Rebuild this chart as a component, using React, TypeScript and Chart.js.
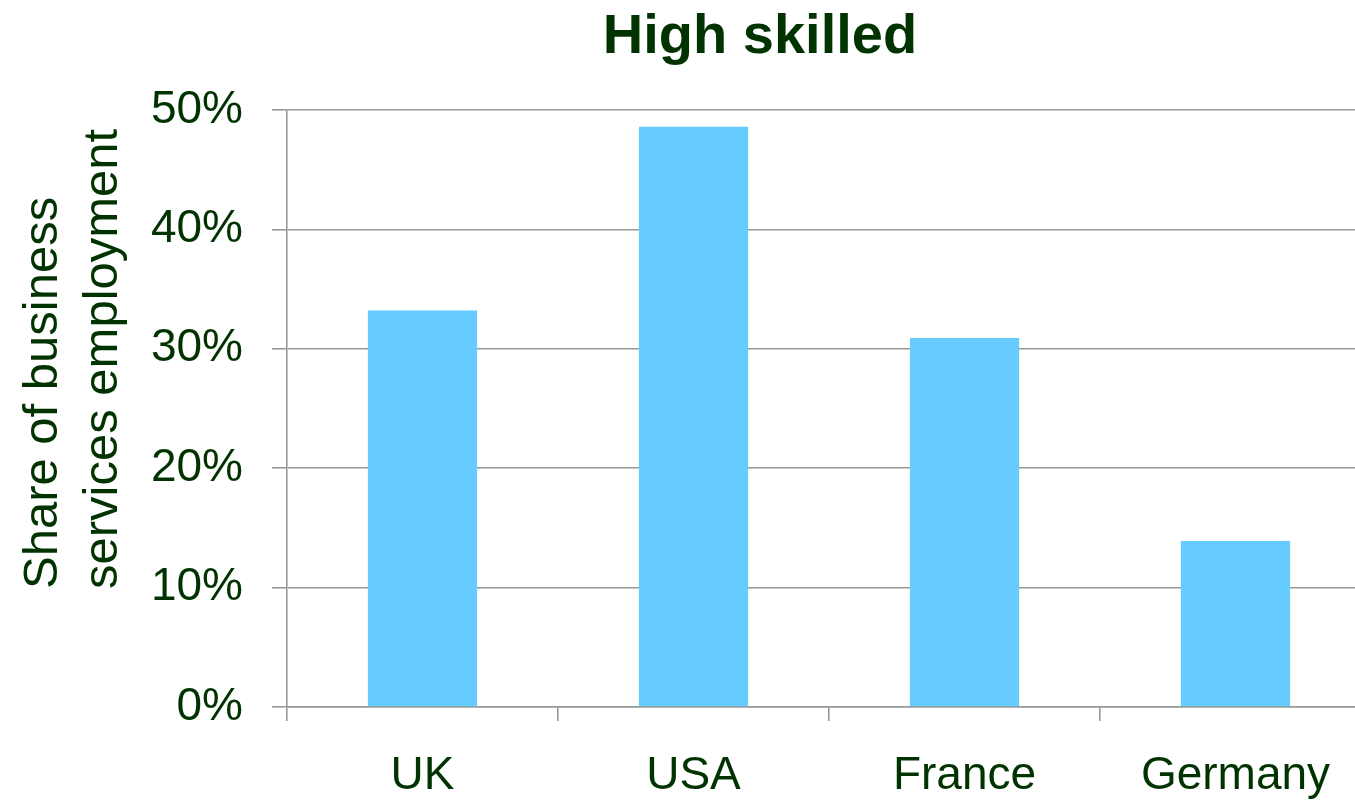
import React, { useEffect, useRef } from "react";
import { Chart, registerables } from "chart.js";

Chart.register(...registerables);

const categories = ["UK", "USA", "France", "Germany"];
const shareValues = [33.2, 48.6, 30.9, 13.9];
const yTickValues = [0, 10, 20, 30, 40, 50];
const chartTitle = "High skilled";
const yAxisTitleLines = ["Share of business", "services employment"];

const FONT = "'Liberation Sans', Arial, sans-serif";
const TEXT_COLOR = "#003300";
const GRID_COLOR = "#959a95";
const BAR_COLOR = "#66CCFF";

const textPlugin = {
  id: "customText",
  afterDraw(chart: any) {
    const ctx = chart.ctx;
    ctx.save();
    ctx.fillStyle = TEXT_COLOR;
    ctx.font = `bold 56px ${FONT}`;
    ctx.textAlign = "center";
    ctx.textBaseline = "alphabetic";
    ctx.fillText(chartTitle, 760, 53);

    ctx.font = `49px ${FONT}`;
    ctx.textAlign = "left";
    const baselines = [57, 117];
    yAxisTitleLines.forEach((line, i) => {
      ctx.save();
      ctx.translate(baselines[i], 589);
      ctx.rotate(-Math.PI / 2);
      ctx.fillText(line, 0, 0);
      ctx.restore();
    });
    ctx.restore();
  },
};

export default function App() {
  const canvasRef = useRef<HTMLCanvasElement | null>(null);

  useEffect(() => {
    if (!canvasRef.current) return;
    const chart = new Chart(canvasRef.current, {
      type: "bar",
      data: {
        labels: categories,
        datasets: [
          {
            data: shareValues,
            backgroundColor: BAR_COLOR,
            borderWidth: 0,
            barPercentage: 0.403,
            categoryPercentage: 1,
          },
        ],
      },
      options: {
        responsive: false,
        animation: false,
        maintainAspectRatio: false,
        layout: { padding: { top: 110, left: 0, right: 0, bottom: 0 } },
        plugins: {
          legend: { display: false },
          title: { display: false },
          tooltip: { enabled: false },
        },
        scales: {
          x: {
            offset: true,
            grid: {
              offset: true,
              drawOnChartArea: false,
              drawTicks: true,
              tickLength: 14,
              color: GRID_COLOR,
              lineWidth: 1.6,
            },
            border: { display: true, color: GRID_COLOR, width: 1.6 },
            ticks: {
              color: TEXT_COLOR,
              font: { family: FONT, size: 46 },
              padding: 28,
              maxRotation: 0,
              autoSkip: false,
            },
            afterFit(scale: any) {
              scale.height = 95;
            },
          },
          y: {
            min: 0,
            max: 50,
            afterBuildTicks(scale: any) {
              scale.ticks = yTickValues.map((v) => ({ value: v }));
            },
            grid: {
              color: GRID_COLOR,
              lineWidth: 1.6,
              drawTicks: true,
              tickLength: 15,
            },
            border: { display: true, color: GRID_COLOR, width: 1.6 },
            ticks: {
              color: TEXT_COLOR,
              font: { family: FONT, size: 46 },
              padding: 29,
              callback: (v: any) => `${v}%`,
            },
            afterFit(scale: any) {
              scale.width = 287;
            },
          },
        },
      },
      plugins: [textPlugin],
    });
    return () => chart.destroy();
  }, []);

  return (
    <div
      style={{
        position: "absolute",
        left: 0,
        top: 0,
        width: 1355,
        height: 802,
        overflow: "hidden",
        background: "#ffffff",
      }}
    >
      <canvas ref={canvasRef} width={1371} height={802} style={{ display: "block" }} />
    </div>
  );
}
